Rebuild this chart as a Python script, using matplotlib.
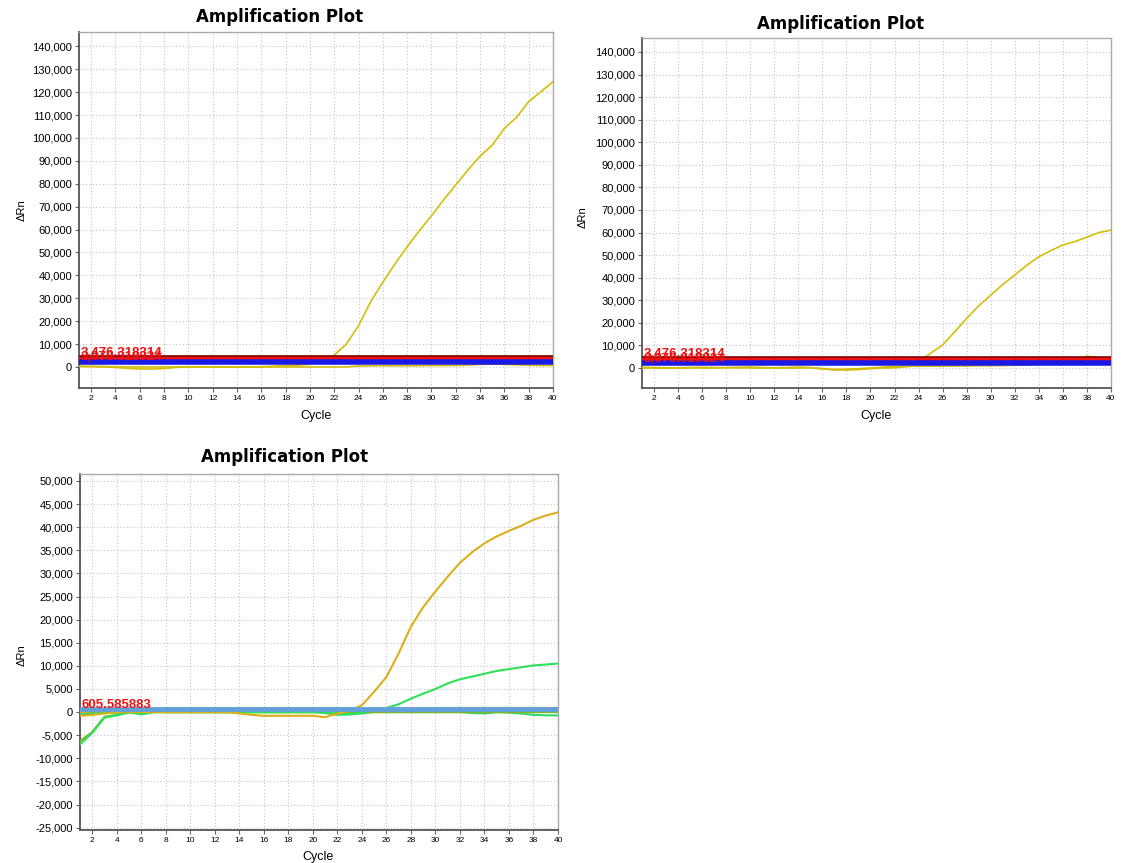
import numpy as np
import matplotlib
matplotlib.use("Agg")
import matplotlib.pyplot as plt
from matplotlib.ticker import FuncFormatter

plt.rcParams.update({"font.family": ["Liberation Sans", "DejaVu Sans"],
                     "axes.unicode_minus": False})

cycles = np.arange(1, 41)

# top-left panel
tl_amp = [200, 100, 0, -200, -600, -900, -900, -700, -200, 0,
          100, 0, -100, -100, 0, 100, 300, 600, 800, 1200,
          2500, 5200, 10000, 18000, 28500, 37000, 45000, 52500, 59500, 66000,
          73000, 79500, 86000, 92100, 96900, 104200, 109000, 115900, 120200, 124600]
tl_flat = [300, 300, 200, 100, 0, 0, 0, 0, 0, 0,
           0, 0, 0, 0, 0, 0, 0, 0, 0, 0,
           0, 0, 0, 400, 500, 500, 500, 500, 500, 600,
           600, 600, 800, 1100, 1200, 1100, 900, 700, 600, 600]

# top-right panel
tr_amp = [300, 200, 100, 100, 200, 300, 200, 100, 300, 400,
          200, 100, 200, 400, 200, -300, -900, -900, -700, -300,
          0, 100, 600, 2800, 6500, 10200, 16000, 22000, 27500, 32300,
          37000, 41200, 45500, 49300, 52000, 54500, 56000, 58000, 60000, 61100]
tr_flat = [0, 0, -100, 0, 100, 0, 0, 200, 100, 0,
           0, 100, 0, 0, 100, -400, -600, -500, -300, 0,
           400, 600, 700, 800, 800, 800, 900, 900, 1000, 1000,
           1100, 1200, 1300, 1600, 2200, 3000, 3900, 5200, 4600, 4300]

# bottom panel
b_yellow_amp = [-800, -600, -300, 0, 0, 0, 0, 0, 0, 0,
                0, 0, 0, -300, -600, -800, -800, -800, -800, -800,
                -1100, -300, 300, 1500, 4400, 7600, 12700, 18500, 22700, 26100,
                29300, 32300, 34600, 36500, 38000, 39200, 40300, 41600, 42500, 43200]
b_green_amp = [-7000, -4500, -1200, -700, -100, -400, 0, 0, 0, 0,
               0, 0, 0, 0, 0, 0, 0, 0, 0, 0,
               0, -200, -500, 0, 400, 900, 1700, 2900, 4000, 5000,
               6200, 7100, 7700, 8300, 8900, 9300, 9700, 10100, 10300, 10500]
b_olive = [-6300, -4300, -1000, -600, 0, 200, 100, 0, 0, 0,
           0, 0, 0, 0, 0, 0, 0, 0, 0, 0,
           0, 0, 0, 0, 0, 0, 0, 0, 0, 0,
           0, 0, 0, 0, 0, 0, 0, 0, 0, 0]
b_green_flat = [-500, -300, -200, -100, 0, -500, 0, 0, 0, 0,
                0, 0, 0, 0, 0, 0, 0, 0, 0, 0,
                -200, -600, -500, -300, 0, 0, 0, 0, 0, 0,
                0, 0, -200, -300, 0, -100, -300, -600, -700, -700]
b_yellow_flat = [0, 0, 0, 0, 0, 0, 0, 0, 0, 0,
                 0, 0, 0, 0, 0, 0, 0, 0, 0, 0,
                 0, 0, 0, 100, 200, 300, 300, 400, 500, 700,
                 900, 900, 900, 900, 900, 900, 900, 900, 900, 900]
b_lime = [0] * 40

thr_top = [3476.318314, 2300]
thr_top_labels = ["3,476.318314", "3,070.318324"]
thr_bottom = 605.585883
thr_bottom_label = "605.585883"

fig = plt.figure(figsize=(11.23, 8.63), dpi=100)
W, H = 1123, 863


def make_ax(l, t, r, b):
    return fig.add_axes([l / W, 1 - b / H, (r - l) / W, (b - t) / H])


def style(ax, ylim, ystep):
    ax.set_xlim(1, 40)
    ax.set_ylim(*ylim)
    ax.set_xticks(np.arange(2, 41, 2))
    ax.set_yticks(np.arange(-30000, 150001, ystep))
    ax.set_ylim(*ylim)
    ax.yaxis.set_major_formatter(FuncFormatter(lambda v, p: f"{v:,.0f}"))
    ax.tick_params(axis="x", labelsize=6, length=3, color="#666666", pad=2)
    ax.tick_params(axis="y", labelsize=8, length=3, color="#666666", pad=2)
    ax.grid(True, color="#c4c4c4", linestyle=(0, (1, 2)), linewidth=0.8)
    ax.set_axisbelow(True)
    for s in ["left", "bottom"]:
        ax.spines[s].set_color("#555555")
        ax.spines[s].set_linewidth(1.3)
    for s in ["top", "right"]:
        ax.spines[s].set_color("#aaaaaa")
        ax.spines[s].set_linewidth(1.0)


def top_threshold(ax):
    ax.axhline(thr_top[0], color="#7a0000", lw=5.5, zorder=5)
    ax.axhline(thr_top[0], color="#ee1111", lw=3.2, zorder=5)
    ax.axhline(thr_top[1], color="#1a1ae6", lw=4.0, zorder=6)
    ax.annotate(thr_top_labels[0], (1, thr_top[0]), xytext=(1, 2),
                textcoords="offset points", color="#ee1111", fontsize=9.5,
                fontweight="bold", zorder=7)
    ax.annotate(thr_top_labels[1], (1, thr_top[0]), xytext=(1, -1),
                textcoords="offset points", color="#ee1111", fontsize=9.5,
                fontweight="bold", zorder=7)


yellow = "#d4be0a"

# top-left
ax1 = make_ax(79, 32, 553, 388)
style(ax1, (-9200, 146300), 10000)
ax1.plot(cycles, tl_flat, color=yellow, lw=1.2, zorder=3)
ax1.plot(cycles, tl_amp, color=yellow, lw=1.2, zorder=3)
top_threshold(ax1)
fig.text(280 / W, 1 - 17 / H, "Amplification Plot", ha="center", va="center",
         fontsize=12, fontweight="bold", family="DejaVu Sans")
fig.text(22 / W, 1 - 210 / H, "ΔRn", rotation=90, ha="center", va="center", fontsize=8)
fig.text(316 / W, 1 - 416 / H, "Cycle", ha="center", va="center", fontsize=9)

# top-right
ax2 = make_ax(642, 38, 1111, 388)
style(ax2, (-8860, 146200), 10000)
ax2.plot(cycles, tr_flat, color=yellow, lw=1.2, zorder=3)
ax2.plot(cycles, tr_amp, color=yellow, lw=1.2, zorder=3)
top_threshold(ax2)
fig.text(841 / W, 1 - 24 / H, "Amplification Plot", ha="center", va="center",
         fontsize=12, fontweight="bold", family="DejaVu Sans")
fig.text(583 / W, 1 - 217 / H, "ΔRn", rotation=90, ha="center", va="center", fontsize=8)
fig.text(876 / W, 1 - 416 / H, "Cycle", ha="center", va="center", fontsize=9)

# bottom
ax3 = make_ax(80, 474, 558, 830)
style(ax3, (-25500, 51500), 5000)
ax3.plot(cycles, b_lime, color="#d8e81a", lw=1.5, zorder=3)
ax3.plot(cycles, b_yellow_flat, color="#d9a91c", lw=1.5, zorder=3)
ax3.plot(cycles, b_green_flat, color="#2fd86a", lw=1.5, zorder=3)
ax3.plot(cycles, b_olive, color="#7fb52a", lw=1.5, zorder=3)
ax3.plot(cycles, b_green_amp, color="#2ee05a", lw=1.5, zorder=3)
ax3.plot(cycles, b_yellow_amp, color="#dbae1a", lw=1.5, zorder=3)
ax3.axhline(thr_bottom, color="#62a0dc", lw=3.5, zorder=5)
ax3.annotate(thr_bottom_label, (1, thr_bottom), xytext=(1, 1),
             textcoords="offset points", color="#ee1111", fontsize=9.5,
             fontweight="bold", zorder=7)
fig.text(285 / W, 1 - 457 / H, "Amplification Plot", ha="center", va="center",
         fontsize=12, fontweight="bold", family="DejaVu Sans")
fig.text(22 / W, 1 - 655 / H, "ΔRn", rotation=90, ha="center", va="center", fontsize=8)
fig.text(318 / W, 1 - 857 / H, "Cycle", ha="center", va="center", fontsize=9)

fig.savefig("out.png", dpi=100)
